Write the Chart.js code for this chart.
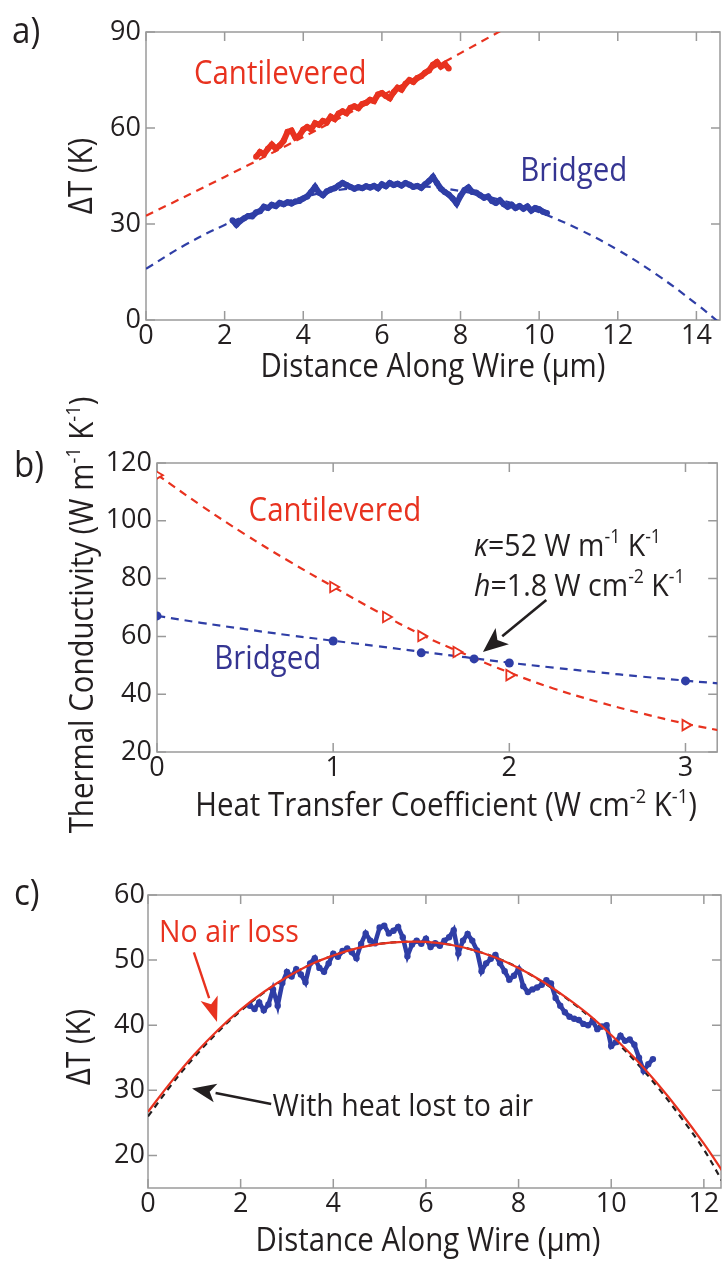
<!DOCTYPE html>
<html>
<head>
<meta charset="utf-8">
<script src="https://cdn.jsdelivr.net/npm/chart.js@4.4.0/dist/chart.umd.min.js"></script>
<style>
  html, body { margin: 0; padding: 0; background: #fff; }
  #wrap { position: relative; width: 725px; height: 1261px; overflow: hidden; }
  canvas { position: absolute; left: 0; display: block; }
</style>
</head>
<body>
<div id="wrap">
  <canvas id="chartA" width="725" height="385" style="top:0"></canvas>
  <canvas id="chartB" width="725" height="470" style="top:385px"></canvas>
  <canvas id="chartC" width="725" height="406" style="top:855px"></canvas>
</div>
<script>
// ---- a) temperature along cantilevered / bridged wire ----
const cantX = [2.8,2.9,3.0,3.1,3.2,3.3,3.4,3.5,3.6,3.7,3.8,3.9,4.0,4.1,4.2,4.3,4.4,4.5,4.6,4.7,4.8,4.9,5.0,5.1,5.2,5.3,5.4,5.5,5.6,5.7,5.8,5.9,6.0,6.1,6.2,6.3,6.4,6.5,6.6,6.7,6.8,6.9,7.0,7.1,7.2,7.3,7.4,7.5,7.6,7.7];
const cantT = [51.0,52.5,51.8,53.5,54.8,53.6,54.5,56.0,58.8,59.2,57.0,57.6,59.5,60.3,59.6,61.5,61.0,62.2,61.8,63.5,62.8,64.5,65.2,64.6,66.3,66.8,66.2,67.5,67.9,68.8,68.4,70.5,70.9,70.0,69.3,71.2,72.6,72.0,73.8,75.0,74.4,75.6,76.2,77.3,78.0,79.8,80.6,79.2,80.0,78.6];
const bridX = [2.2,2.3,2.4,2.5,2.6,2.7,2.8,2.9,3.0,3.1,3.2,3.3,3.4,3.5,3.6,3.7,3.8,3.9,4.0,4.1,4.2,4.3,4.4,4.5,4.6,4.7,4.8,4.9,5.0,5.1,5.2,5.3,5.4,5.5,5.6,5.7,5.8,5.9,6.0,6.1,6.2,6.3,6.4,6.5,6.6,6.7,6.8,6.9,7.0,7.1,7.2,7.3,7.4,7.5,7.6,7.7,7.8,7.9,8.0,8.1,8.2,8.3,8.4,8.5,8.6,8.7,8.8,8.9,9.0,9.1,9.2,9.3,9.4,9.5,9.6,9.7,9.8,9.9,10.0,10.1,10.2];
const bridT = [31.2,29.8,31.0,31.8,32.5,32.4,33.6,34.0,35.4,35.0,36.0,35.6,36.6,36.2,36.8,36.4,37.0,37.2,38.0,38.6,40.0,41.6,39.8,39.0,40.2,40.8,41.2,42.0,42.8,42.2,41.6,41.0,41.5,41.2,41.8,41.4,41.9,41.2,42.4,41.8,42.8,42.2,42.6,42.0,42.8,42.3,41.6,41.9,41.3,42.4,43.4,44.7,42.8,41.0,40.0,39.2,38.0,36.4,38.8,40.6,41.4,40.0,39.8,39.0,38.2,38.6,37.2,36.6,37.4,36.2,35.4,36.0,35.0,35.6,34.8,35.5,34.2,35.0,34.6,33.8,33.4];
const cantFitX = [0, 1, 2, 3, 4, 5, 6, 7, 8, 9, 9.3];
const cantFitT = [32.6, 38.6, 44.7, 50.9, 57.2, 63.6, 70.1, 76.7, 83.4, 90.2, 92.2];
const bridFitX = [0, 1, 2, 3, 4, 5, 6, 7, 8, 9, 10, 11, 12, 13, 14, 14.6];
const bridFitT = [16.0, 23.5, 29.7, 34.7, 38.4, 40.8, 41.9, 41.8, 40.3, 37.6, 33.7, 28.4, 21.9, 14.1, 5.0, -1.0];
const aXTicks = [0, 2, 4, 6, 8, 10, 12, 14];
const aYTicks = [0, 30, 60, 90];

// ---- b) conductivity vs heat transfer coefficient ----
const hCant = [0, 1, 1.3, 1.5, 1.7, 2, 3];
const kCant = [115.8, 77.1, 66.7, 60.1, 54.6, 46.6, 29.3];
const hBrid = [0, 1, 1.5, 1.8, 2, 3];
const kBrid = [67.1, 58.4, 54.3, 52.2, 50.8, 44.6];
const hFit = [0, 0.25, 0.5, 0.75, 1, 1.25, 1.5, 1.75, 2, 2.25, 2.5, 2.75, 3, 3.25];
const kCantFit = [116, 105.3, 95.3, 86, 77.2, 68.6, 60.6, 53.8, 47.5, 42.0, 37.4, 33.4, 29.8, 26.8];
const kBridFit = [67.1, 64.7, 62.5, 60.4, 58.5, 56.6, 54.7, 52.8, 50.9, 49.2, 47.6, 46.1, 44.7, 43.4];
const bXTicks = [0, 1, 2, 3];
const bYTicks = [20, 40, 60, 80, 100, 120];

// ---- c) bridged wire, with and without air loss ----
const cX = [2.2,2.3,2.4,2.5,2.6,2.7,2.8,2.9,3.0,3.1,3.2,3.3,3.4,3.5,3.6,3.7,3.8,3.9,4.0,4.1,4.2,4.3,4.4,4.5,4.6,4.7,4.8,4.9,5.0,5.1,5.2,5.3,5.4,5.5,5.6,5.7,5.8,5.9,6.0,6.1,6.2,6.3,6.4,6.5,6.6,6.7,6.8,6.9,7.0,7.1,7.2,7.3,7.4,7.5,7.6,7.7,7.8,7.9,8.0,8.1,8.2,8.3,8.4,8.5,8.6,8.7,8.8,8.9,9.0,9.1,9.2,9.3,9.4,9.5,9.6,9.7,9.8,9.9,10.0,10.1,10.2,10.3,10.4,10.5,10.6,10.7,10.8,10.9];
const cT = [43.0,42.5,43.5,42.3,43.2,45.5,43.0,46.5,48.2,47.5,48.6,47.8,46.6,49.5,50.3,48.8,48.2,49.5,51.0,50.5,51.4,51.8,51.2,50.3,52.5,54.1,53.0,52.6,55.0,55.3,54.1,54.5,55.1,53.5,50.6,52.4,53.0,52.5,53.3,52.0,52.6,52.2,53.0,53.5,54.6,51.0,53.0,54.0,53.0,51.5,48.3,49.5,50.2,50.8,49.5,48.3,47.0,47.6,48.6,46.0,45.1,45.5,45.8,46.2,46.9,46.4,44.2,43.0,42.0,41.3,41.0,40.8,40.2,40.0,40.6,39.4,39.8,40.0,36.8,37.4,38.4,37.6,37.8,37.0,35.0,33.0,34.0,34.8];
const cFitX = [0, 0.5, 1, 1.5, 2, 2.5, 3, 3.5, 4, 4.5, 5, 5.5, 6, 6.5, 7, 7.5, 8, 8.5, 9, 9.5, 10, 10.5, 11, 11.5, 12, 12.4];
const noAirT = [26.7, 31.3, 35.5, 39.2, 42.4, 45.1, 47.4, 49.3, 50.7, 51.8, 52.5, 52.8, 52.8, 52.4, 51.6, 50.4, 48.8, 46.8, 44.4, 41.7, 38.5, 35.0, 31.0, 26.6, 21.8, 17.6];
const airT = [26.0, 30.8, 35.1, 38.9, 42.2, 45.0, 47.3, 49.3, 50.7, 51.8, 52.5, 52.8, 52.8, 52.4, 51.6, 50.4, 48.8, 46.7, 44.3, 41.5, 38.2, 34.6, 30.5, 25.9, 20.9, 16.0];
const cXTicks = [0, 2, 4, 6, 8, 10, 12];
const cYTicks = [20, 30, 40, 50, 60];

const FONT = '"Open Sans", "Noto Sans", sans-serif';
const INK = '#231f20';
const RED = '#e8321f';
const BLUE = '#2f3ea6';
const BLUE_TXT = '#353592';
const FRAME = '#9a9a9a';
const SQUEEZE = 0.92; // narrows the text a bit, the original font is a condensed one

Chart.defaults.font.family = FONT;
Chart.defaults.color = INK;
Chart.defaults.animation = false;

function pts(xs, ys) {
  return xs.map((x, i) => ({ x: x, y: ys[i] }));
}

// text made of pieces: [text, kind], kind '' plain, 'i' italic, 's' superscript
function drawRich(ctx, segs, x, y, size, color, align) {
  const fontFor = k => (k === 'i' ? 'italic ' : '') + (k === 's' ? size * 0.62 : size) + 'px ' + FONT;
  let w = 0;
  segs.forEach(([t, k]) => { ctx.font = fontFor(k); w += ctx.measureText(t).width; });
  ctx.save();
  ctx.translate(x, y);
  ctx.scale(SQUEEZE, 1);
  let cx = align === 'center' ? -w / 2 : 0;
  ctx.fillStyle = color;
  ctx.textBaseline = 'middle';
  ctx.textAlign = 'left';
  segs.forEach(([t, k]) => {
    ctx.font = fontFor(k);
    ctx.fillText(t, cx, k === 's' ? -size * 0.3 : 0);
    cx += ctx.measureText(t).width;
  });
  ctx.restore();
}

function drawArrow(ctx, x1, y1, x2, y2, color, headLen, headW, lw) {
  const ang = Math.atan2(y2 - y1, x2 - x1);
  const bx = x2 - headLen * Math.cos(ang), by = y2 - headLen * Math.sin(ang);
  ctx.save();
  ctx.strokeStyle = color;
  ctx.fillStyle = color;
  ctx.lineWidth = lw;
  ctx.beginPath();
  ctx.moveTo(x1, y1);
  ctx.lineTo(bx, by);
  ctx.stroke();
  ctx.beginPath();
  ctx.moveTo(x2, y2);
  ctx.lineTo(bx + headW / 2 * Math.sin(ang), by - headW / 2 * Math.cos(ang));
  ctx.lineTo(bx + headLen * 0.25 * Math.cos(ang), by + headLen * 0.25 * Math.sin(ang));
  ctx.lineTo(bx - headW / 2 * Math.sin(ang), by + headW / 2 * Math.cos(ang));
  ctx.closePath();
  ctx.fill();
  ctx.restore();
}

// matlab-like box with inward ticks on all four sides
const boxPlugin = {
  id: 'box',
  beforeDatasetsDraw(chart) {
    const { ctx, chartArea: a, scales } = chart;
    const L = 9;
    ctx.save();
    ctx.strokeStyle = FRAME;
    ctx.lineWidth = 1.5;
    ctx.strokeRect(a.left, a.top, a.right - a.left, a.bottom - a.top);
    ctx.beginPath();
    scales.x.ticks.forEach(t => {
      const p = scales.x.getPixelForValue(t.value);
      ctx.moveTo(p, a.bottom); ctx.lineTo(p, a.bottom - L);
      ctx.moveTo(p, a.top); ctx.lineTo(p, a.top + L);
    });
    scales.y.ticks.forEach(t => {
      const p = scales.y.getPixelForValue(t.value);
      ctx.moveTo(a.left, p); ctx.lineTo(a.left + L, p);
      ctx.moveTo(a.right, p); ctx.lineTo(a.right - L, p);
    });
    ctx.stroke();
    ctx.restore();
  }
};

function axes(xmin, xmax, xticks, ymin, ymax, yticks, yWidth, xHeight, yPad) {
  const tickFont = { size: 27, family: FONT };
  return {
    x: {
      type: 'linear', min: xmin, max: xmax,
      afterBuildTicks: s => { s.ticks = xticks.map(v => ({ value: v })); },
      afterFit: s => { s.height = xHeight; },
      ticks: { font: tickFont, color: INK, padding: 0, maxRotation: 0, autoSkip: false },
      grid: { display: false, drawTicks: false },
      border: { display: false }
    },
    y: {
      type: 'linear', min: ymin, max: ymax,
      afterBuildTicks: s => { s.ticks = yticks.map(v => ({ value: v })); },
      afterFit: s => { s.width = yWidth; },
      ticks: { font: tickFont, color: INK, padding: yPad, autoSkip: false },
      grid: { display: false, drawTicks: false },
      border: { display: false }
    }
  };
}

function baseOptions(pad, scales) {
  return {
    responsive: false,
    animation: false,
    layout: { padding: pad },
    plugins: { legend: { display: false }, tooltip: { enabled: false } },
    scales: scales
  };
}

// ---------- panel a ----------
new Chart(document.getElementById('chartA'), {
  type: 'scatter',
  data: {
    datasets: [
      { data: pts(cantX, cantT), showLine: true, borderColor: RED, backgroundColor: RED, borderWidth: 6, pointRadius: 3, pointBorderWidth: 0, order: 0 },
      { data: pts(bridX, bridT), showLine: true, borderColor: BLUE, backgroundColor: BLUE, borderWidth: 6, pointRadius: 3, pointBorderWidth: 0, order: 1 },
      { data: pts(cantFitX, cantFitT), showLine: true, borderColor: RED, borderWidth: 2.2, borderDash: [8, 6], pointRadius: 0, tension: 0.3, order: 2 },
      { data: pts(bridFitX, bridFitT), showLine: true, borderColor: BLUE, borderWidth: 2.2, borderDash: [8, 6], pointRadius: 0, tension: 0.4, order: 3 }
    ]
  },
  options: baseOptions({ top: 32, right: 5, left: 0, bottom: 0 },
    axes(0, 14.6, aXTicks, 0, 90, aYTicks, 146, 65, 5)),
  plugins: [boxPlugin, {
    id: 'labelsA',
    afterDraw(chart) {
      const { ctx, scales: { x, y } } = chart;
      drawRich(ctx, [['a)', '']], 12, 33, 36, INK, 'left');
      drawRich(ctx, [['Cantilevered', '']], x.getPixelForValue(1.22), y.getPixelForValue(76.6), 32, RED, 'left');
      drawRich(ctx, [['Bridged', '']], x.getPixelForValue(9.52), y.getPixelForValue(46.3), 32, BLUE_TXT, 'left');
      drawRich(ctx, [['Distance Along Wire (\u00b5m)', '']], 433, 368, 32, INK, 'center');
      ctx.save();
      ctx.translate(83, 176);
      ctx.rotate(-Math.PI / 2);
      drawRich(ctx, [['\u0394T (K)', '']], 0, 0, 32, INK, 'center');
      ctx.restore();
    }
  }]
});

// ---------- panel b ----------
new Chart(document.getElementById('chartB'), {
  type: 'scatter',
  data: {
    datasets: [
      { data: pts(hCant, kCant), showLine: false, pointStyle: 'triangle', rotation: 90, pointRadius: 6, pointBorderWidth: 1.8, borderColor: RED, backgroundColor: '#ffffff', order: 0 },
      { data: pts(hBrid, kBrid), showLine: false, pointStyle: 'circle', pointRadius: 4.5, pointBorderWidth: 0, backgroundColor: BLUE, order: 1 },
      { data: pts(hFit, kCantFit), showLine: true, borderColor: RED, borderWidth: 2.2, borderDash: [8, 6], pointRadius: 0, tension: 0.4, order: 2 },
      { data: pts(hFit, kBridFit), showLine: true, borderColor: BLUE, borderWidth: 2.2, borderDash: [8, 6], pointRadius: 0, tension: 0.4, order: 3 }
    ]
  },
  options: baseOptions({ top: 78, right: 1, left: 0, bottom: 0 },
    axes(0, 3.18, bXTicks, 20, 120, bYTicks, 157, 103, 5)),
  plugins: [boxPlugin, {
    id: 'labelsB',
    afterDraw(chart) {
      const { ctx, scales: { x, y } } = chart;
      drawRich(ctx, [['b)', '']], 14, 82, 36, INK, 'left');
      drawRich(ctx, [['Cantilevered', '']], x.getPixelForValue(0.52), y.getPixelForValue(103), 32, RED, 'left');
      drawRich(ctx, [['Bridged', '']], x.getPixelForValue(0.325), y.getPixelForValue(51.8), 32, BLUE_TXT, 'left');
      drawRich(ctx, [['\u03ba', 'i'], ['=52 W m', ''], ['-1', 's'], [' K', ''], ['-1', 's']],
        x.getPixelForValue(1.8), y.getPixelForValue(90.9), 31, INK, 'left');
      drawRich(ctx, [['h', 'i'], ['=1.8 W cm', ''], ['-2', 's'], [' K', ''], ['-1', 's']],
        x.getPixelForValue(1.8), y.getPixelForValue(77.1), 31, INK, 'left');
      drawArrow(ctx, x.getPixelForValue(2.21), y.getPixelForValue(72.6),
        x.getPixelForValue(1.85), y.getPixelForValue(54.6), INK, 25, 21, 2.6);
      drawRich(ctx, [['Heat Transfer Coefficient (W cm', ''], ['-2', 's'], [' K', ''], ['-1', 's'], [')', '']], 446, 422, 32, INK, 'center');
      ctx.save();
      ctx.translate(84, 230);
      ctx.rotate(-Math.PI / 2);
      drawRich(ctx, [['Thermal Conductivity (W m', ''], ['-1', 's'], [' K', ''], ['-1', 's'], [')', '']], 0, 0, 32, INK, 'center');
      ctx.restore();
    }
  }]
});

// ---------- panel c ----------
new Chart(document.getElementById('chartC'), {
  type: 'scatter',
  data: {
    datasets: [
      { data: pts(cFitX, noAirT), showLine: true, borderColor: RED, borderWidth: 2.2, pointRadius: 0, tension: 0.4, order: 0 },
      { data: pts(cX, cT), showLine: true, borderColor: BLUE, backgroundColor: BLUE, borderWidth: 4.5, pointRadius: 3.2, pointBorderWidth: 0, order: 1 },
      { data: pts(cFitX, airT), showLine: true, borderColor: INK, borderWidth: 2.2, borderDash: [6, 5], pointRadius: 0, tension: 0.4, order: 2 }
    ]
  },
  options: baseOptions({ top: 40, right: 3, left: 0, bottom: 0 },
    axes(0, 12.37, cXTicks, 15, 60, cYTicks, 148, 73, 3)),
  plugins: [boxPlugin, {
    id: 'labelsC',
    afterDraw(chart) {
      const { ctx, scales: { x, y } } = chart;
      drawRich(ctx, [['c)', '']], 14, 40, 36, INK, 'left');
      drawRich(ctx, [['No air loss', '']], x.getPixelForValue(0.24), y.getPixelForValue(54.2), 31, RED, 'left');
      drawArrow(ctx, x.getPixelForValue(0.99), y.getPixelForValue(51.2),
        x.getPixelForValue(1.49), y.getPixelForValue(40.5), RED, 25, 18, 2.4);
      drawRich(ctx, [['With heat lost to air', '']], x.getPixelForValue(2.69), y.getPixelForValue(27.4), 31, INK, 'left');
      drawArrow(ctx, x.getPixelForValue(2.66), y.getPixelForValue(27.9),
        x.getPixelForValue(0.95), y.getPixelForValue(30.3), INK, 24, 19, 2.4);
      drawRich(ctx, [['Distance Along Wire (\u00b5m)', '']], 428, 387, 32, INK, 'center');
      ctx.save();
      ctx.translate(81, 192);
      ctx.rotate(-Math.PI / 2);
      drawRich(ctx, [['\u0394T (K)', '']], 0, 0, 32, INK, 'center');
      ctx.restore();
    }
  }]
});
</script>
</body>
</html>
